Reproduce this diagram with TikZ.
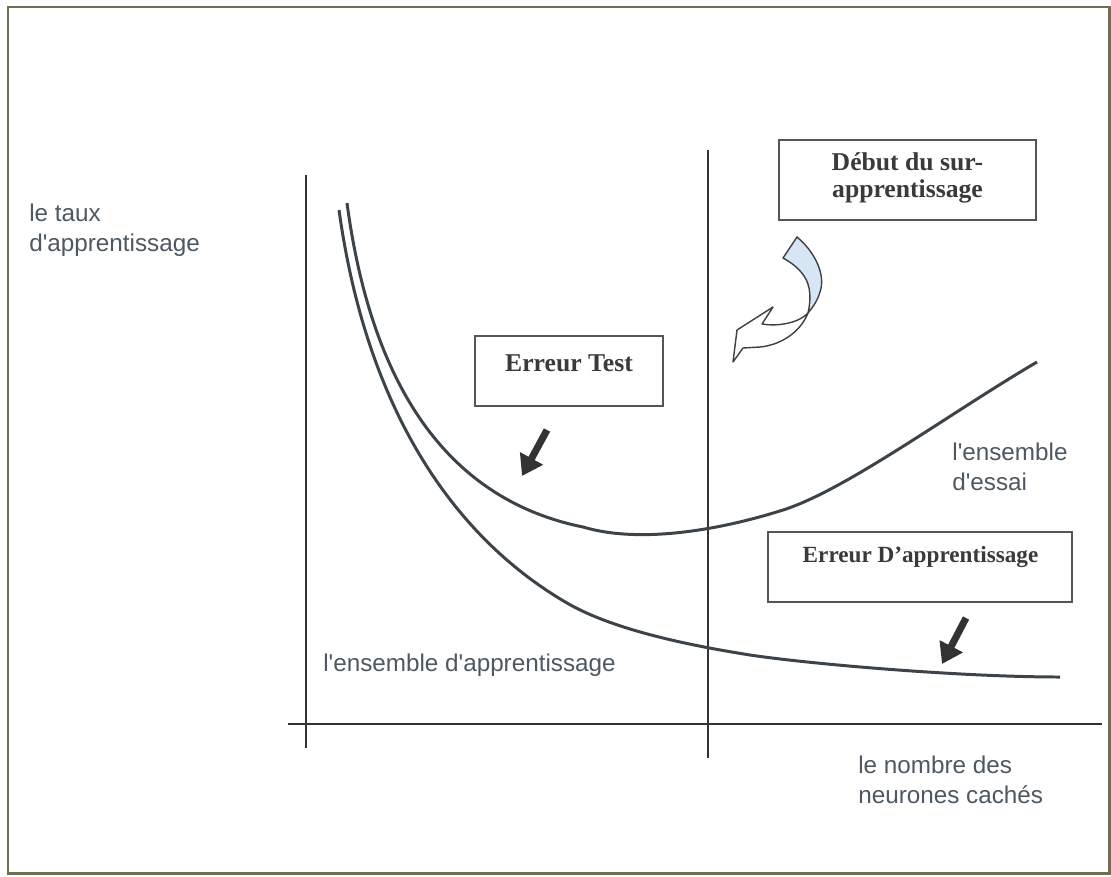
\documentclass[tikz,border=0pt]{standalone}
\usepackage{fontspec}
\setmainfont{Liberation Serif}
\newfontfamily\lblfont{Liberation Sans}
\usetikzlibrary{arrows.meta}
\definecolor{framecol}{HTML}{6E6E55}
\definecolor{curvecol}{HTML}{3D4449}
\definecolor{axiscol}{HTML}{333333}
\definecolor{labelcol}{HTML}{4D5862}
\definecolor{boxtextcol}{HTML}{3A3A3A}
\definecolor{boxcol}{HTML}{555555}
\definecolor{ribbon}{HTML}{D6E6F5}
\begin{document}
\begin{tikzpicture}[x=0.02cm,y=-0.02cm,
  axis/.style={axiscol, line width=0.85pt},
  curve/.style={curvecol, line width=1.7pt},
  errbox/.style={draw=boxcol, line width=1.1pt, fill=none, inner sep=0pt},
  boxtext/.style={text=boxtextcol, font=\fontsize{14.6}{16}\selectfont\bfseries, align=center, inner sep=0pt},
  boxtextsmall/.style={text=boxtextcol, font=\fontsize{13.2}{15}\selectfont\bfseries, align=center, inner sep=0pt},
  lbl/.style={text=labelcol, font=\lblfont\fontsize{13.8}{17}\selectfont, align=left, anchor=west, inner sep=0pt},
  pointer/.style={axiscol, line width=4pt, -{Triangle[length=0.4cm,width=0.5cm]}}
]
\useasboundingbox (0,0) rectangle (1111,876);
\fill[white] (0,0) rectangle (1111,876);
\draw[framecol, line width=1.7pt] (8,7) rectangle (1109,873);

% axes
\coordinate (ytop) at (306,175);
\coordinate (ybot) at (306,748);
\coordinate (xleft) at (288,724);
\coordinate (xright) at (1102,724);
\coordinate (vtop) at (708,150);
\coordinate (vbot) at (708,758);
\draw[axis] (ytop) -- (ybot);
\draw[axis] (xleft) -- (xright);
\draw[axis] (vtop) -- (vbot);

% test error curve
\draw[curve] (347,203) .. controls (372,390) and (450,500) .. (583,527)
  .. controls (640,544) and (720,530) .. (783,510)
  .. controls (846,490) and (950,413) .. (1037,362);
% training error curve
\draw[curve] (339,210) .. controls (366,405) and (450,535) .. (567,603)
  .. controls (617,632) and (700,647) .. (750,655)
  .. controls (810,664) and (960,677) .. (1060,677);

% boxes
\node[errbox, minimum width=5.14cm, minimum height=1.6cm] (debut) at (907.5,180) {};
\node[boxtext] (debuttxt) at (907.5,178) {Début du sur-\\[-1pt]apprentissage};
\node[errbox, minimum width=3.76cm, minimum height=1.4cm] (test) at (569,371) {};
\node[boxtext] (testtxt) at (569,363) {Erreur Test};
\node[errbox, minimum width=6.08cm, minimum height=1.4cm] (appr) at (920,567) {};
\node[boxtextsmall] (apprtxt) at (920.5,557) {Erreur D’apprentissage};

% small pointer arrows
\coordinate (p1s) at (547,430);
\coordinate (p1e) at (522,476);
\coordinate (p2s) at (966,618);
\coordinate (p2e) at (942,664);
\draw[pointer] (p1s) -- (p1e);
\draw[pointer] (p2s) -- (p2e);

% curved ribbon arrow
\filldraw[fill=ribbon, draw=black!75, line width=0.8pt]
  (797,237) .. controls (815,252) and (826,275) .. (820,292)
  .. controls (817,302) and (812,308) .. (808,313)
  .. controls (811,300) and (811,286) .. (804,276)
  .. controls (798,267) and (790,262) .. (783,258) -- cycle;
\filldraw[fill=white, draw=black!75, line width=0.8pt, line join=round]
  (808,313) .. controls (800,333) and (780,345) .. (760,347)
  -- (743,348) -- (733,362) -- (737,330) -- (773,307) -- (762,324)
  .. controls (780,327) and (800,322) .. (808,313) -- cycle;

% labels
\node[lbl] (ylabel) at (29,230) {le taux\\d'apprentissage};
\node[lbl] (essai) at (952,467) {l'ensemble\\d'essai};
\node[lbl] (ensappr) at (323,665) {l'ensemble d'apprentissage};
\node[lbl] (xlabel) at (858,780) {le nombre des\\neurones cachés};
\end{tikzpicture}
\end{document}
